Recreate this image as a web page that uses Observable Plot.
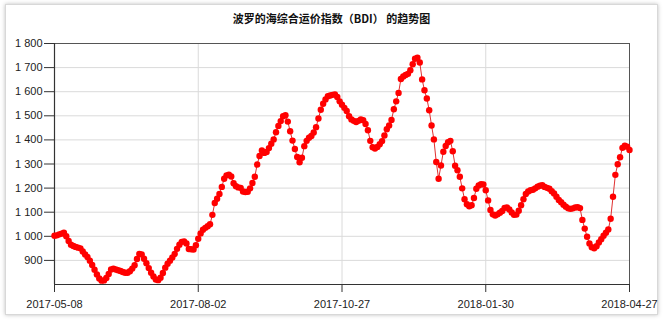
<!DOCTYPE html>
<html><head><meta charset="utf-8">
<script src="https://cdn.jsdelivr.net/npm/d3@7"></script>
<script src="https://cdn.jsdelivr.net/npm/@observablehq/plot@0.6"></script>
<style>
body{margin:0;background:#fff;width:663px;height:321px;overflow:hidden;}
#wrap{position:relative;width:663px;height:321px;}
#box{position:absolute;left:5px;top:4px;width:651px;height:309px;border:1px solid #d8d8d8;box-shadow:0 0 4px rgba(0,0,0,0.25);background:#fff;}
#title{position:absolute;top:10px;left:0;width:663px;text-align:center;font:bold 11px "Noto Sans CJK SC",sans-serif;color:#111;}
#chart{position:absolute;top:30px;left:0;}
</style></head>
<body><div id="wrap"><div id="box"></div><div id="title">波罗的海综合运价指数（BDI） 的趋势图</div><div id="chart"></div></div>
<script>
const titleText = "波罗的海综合运价指数（BDI） 的趋势图";
const tickLabels = ["2017-05-08","2017-08-02","2017-10-27","2018-01-30","2018-04-27"];
const tickIndex = [0, 61, 122, 183, 244];
const yTicks = [900,1000,1100,1200,1300,1400,1500,1600,1700,1800];
const bdi = [
1002,1004,1008,1011,1015,1000,981,965,960,956,
953,950,937,925,914,899,881,861,842,825,
816,817,827,844,862,866,862,859,856,852,
849,849,855,866,880,906,927,925,907,888,
868,849,833,821,818,828,848,870,886,899,
912,927,948,965,977,979,970,947,946,945,
963,990,1012,1027,1035,1042,1050,1089,1138,1156,
1176,1205,1239,1253,1256,1248,1220,1208,1203,1201,
1186,1184,1185,1199,1221,1247,1298,1333,1356,1346,
1350,1366,1384,1402,1432,1458,1478,1498,1502,1476,
1436,1397,1362,1329,1307,1326,1374,1396,1409,1416,
1431,1453,1489,1525,1550,1568,1581,1584,1587,1589,
1578,1560,1546,1533,1520,1498,1485,1479,1474,1479,
1485,1482,1466,1440,1396,1370,1364,1371,1382,1395,
1418,1444,1460,1483,1527,1560,1595,1653,1663,1669,
1674,1689,1714,1737,1741,1721,1651,1606,1572,1523,
1460,1402,1308,1239,1294,1351,1375,1390,1396,1353,
1293,1274,1247,1199,1154,1133,1125,1129,1159,1197,
1211,1216,1215,1191,1149,1109,1091,1086,1091,1098,
1105,1118,1120,1111,1099,1089,1090,1106,1129,1154,
1176,1186,1191,1193,1199,1206,1210,1212,1205,1201,
1197,1187,1178,1164,1151,1141,1131,1123,1116,1114,
1116,1120,1121,1117,1068,1032,998,970,955,950,
959,974,988,1002,1015,1028,1073,1164,1255,1299,
1328,1367,1376,1372,1358
];
const data = bdi.map((v, i) => ({i, v}));
const fmt = d3.formatLocale({decimal: ".", thousands: " ", grouping: [3], currency: ["", ""]}).format(",");
const chart = Plot.plot({
  width: 663, height: 291,
  marginTop: 13, marginBottom: 37, marginLeft: 54, marginRight: 34,
  style: {fontFamily: "'Liberation Sans', Arial, sans-serif", fontSize: "11px", color: "#222", background: "transparent"},
  x: {domain: [0, bdi.length - 1]},
  y: {domain: [800, 1800]},
  marks: [
    Plot.gridY(yTicks, {stroke: "#dadada", strokeOpacity: 1}),
    Plot.gridX(tickIndex, {stroke: "#dadada", strokeOpacity: 1}),
    Plot.frame({stroke: "#555"}),
    Plot.axisY(yTicks, {tickSize: 10, tickPadding: 2, tickFormat: fmt, label: null, stroke: "#333"}),
    Plot.axisX(tickIndex, {tickSize: 8, tickPadding: 8, tickFormat: (d) => tickLabels[tickIndex.indexOf(d)], label: null, stroke: "#333"}),
    Plot.ruleX([0], {stroke: "#333", strokeWidth: 1.2}),
    Plot.ruleY([800], {stroke: "#333", strokeWidth: 1.2}),
    Plot.line(data, {x: "i", y: "v", stroke: "#e03030", strokeWidth: 1}),
    Plot.dot(data, {x: "i", y: "v", r: 3.2, fill: "#ff0000", stroke: "none"})
  ]
});
document.getElementById("chart").appendChild(chart);
</script>
</body></html>
